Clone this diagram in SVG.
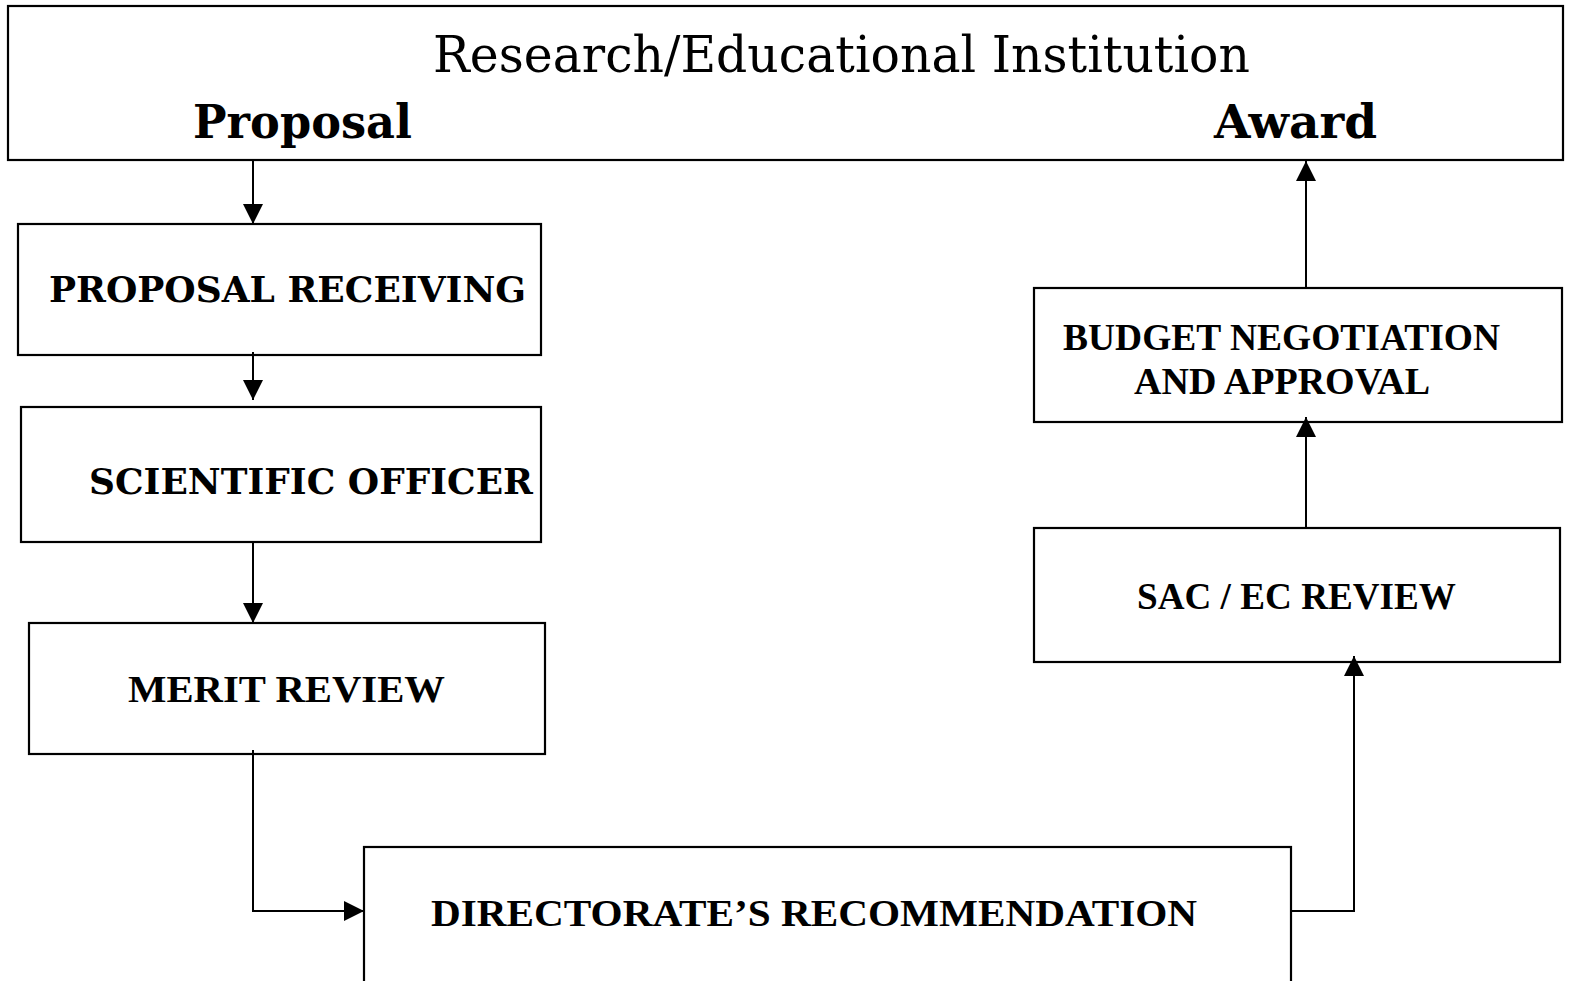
<svg xmlns="http://www.w3.org/2000/svg" width="1572" height="981" viewBox="0 0 1572 981">
<defs>
<style>
.box{fill:#fff;stroke:#000;stroke-width:2.2}
.ln{fill:none;stroke:#000;stroke-width:2}
.dj{font-family:"DejaVu Serif",serif;fill:#000}
.tm{font-family:"Liberation Serif","Times New Roman",serif;font-weight:bold;fill:#000}
</style>
<marker id="ah" viewBox="0 0 20 20" markerWidth="20" markerHeight="20" refX="20" refY="10" orient="auto" markerUnits="userSpaceOnUse">
<path d="M0,0 L20,10 L0,20 Z" fill="#000"/>
</marker>
</defs>
<rect width="1572" height="981" fill="#fff"/>
<g id="institution">
<rect class="box" x="8" y="6" width="1555" height="154"/>
<text class="dj" x="433" y="72" font-size="50" textLength="817" lengthAdjust="spacingAndGlyphs">Research/Educational Institution</text>
<text class="dj" x="193" y="138" font-size="46" font-weight="bold" textLength="219" lengthAdjust="spacingAndGlyphs">Proposal</text>
<text class="dj" x="1214" y="138" font-size="46" font-weight="bold" textLength="163" lengthAdjust="spacingAndGlyphs">Award</text>
</g>
<g id="proposal-receiving">
<rect class="box" x="18" y="224" width="523" height="131"/>
<text class="dj" x="49" y="302" font-size="35" font-weight="bold" textLength="477" lengthAdjust="spacingAndGlyphs">PROPOSAL RECEIVING</text>
</g>
<g id="scientific-officer">
<rect class="box" x="21" y="407" width="520" height="135"/>
<text class="dj" x="89" y="494" font-size="35" font-weight="bold" textLength="444" lengthAdjust="spacingAndGlyphs">SCIENTIFIC OFFICER</text>
</g>
<g id="merit-review">
<rect class="box" x="29" y="623" width="516" height="131"/>
<text class="tm" x="128" y="702" font-size="38" textLength="317" lengthAdjust="spacingAndGlyphs">MERIT REVIEW</text>
</g>
<g id="directorate">
<rect class="box" x="364" y="847" width="927" height="140"/>
<text class="tm" x="431" y="926" font-size="38" textLength="766" lengthAdjust="spacingAndGlyphs">DIRECTORATE’S RECOMMENDATION</text>
</g>
<g id="sac-ec-review">
<rect class="box" x="1034" y="528" width="526" height="134"/>
<text class="tm" x="1137" y="609" font-size="38" textLength="319" lengthAdjust="spacingAndGlyphs">SAC / EC REVIEW</text>
</g>
<g id="budget">
<rect class="box" x="1034" y="288" width="528" height="134"/>
<text class="tm" x="1063" y="350" font-size="38" textLength="437" lengthAdjust="spacingAndGlyphs">BUDGET NEGOTIATION</text>
<text class="tm" x="1134" y="394" font-size="38" textLength="296" lengthAdjust="spacingAndGlyphs">AND APPROVAL</text>
</g>
<g id="connectors">
<line class="ln" x1="253" y1="160" x2="253" y2="224" marker-end="url(#ah)"/>
<line class="ln" x1="253" y1="352" x2="253" y2="400" marker-end="url(#ah)"/>
<line class="ln" x1="253" y1="542" x2="253" y2="623" marker-end="url(#ah)"/>
<polyline class="ln" points="253,750 253,911 364,911" marker-end="url(#ah)"/>
<polyline class="ln" points="1291,911 1354,911 1354,656" marker-end="url(#ah)"/>
<line class="ln" x1="1306" y1="528" x2="1306" y2="417" marker-end="url(#ah)"/>
<line class="ln" x1="1306" y1="288" x2="1306" y2="161" marker-end="url(#ah)"/>
</g>
</svg>
